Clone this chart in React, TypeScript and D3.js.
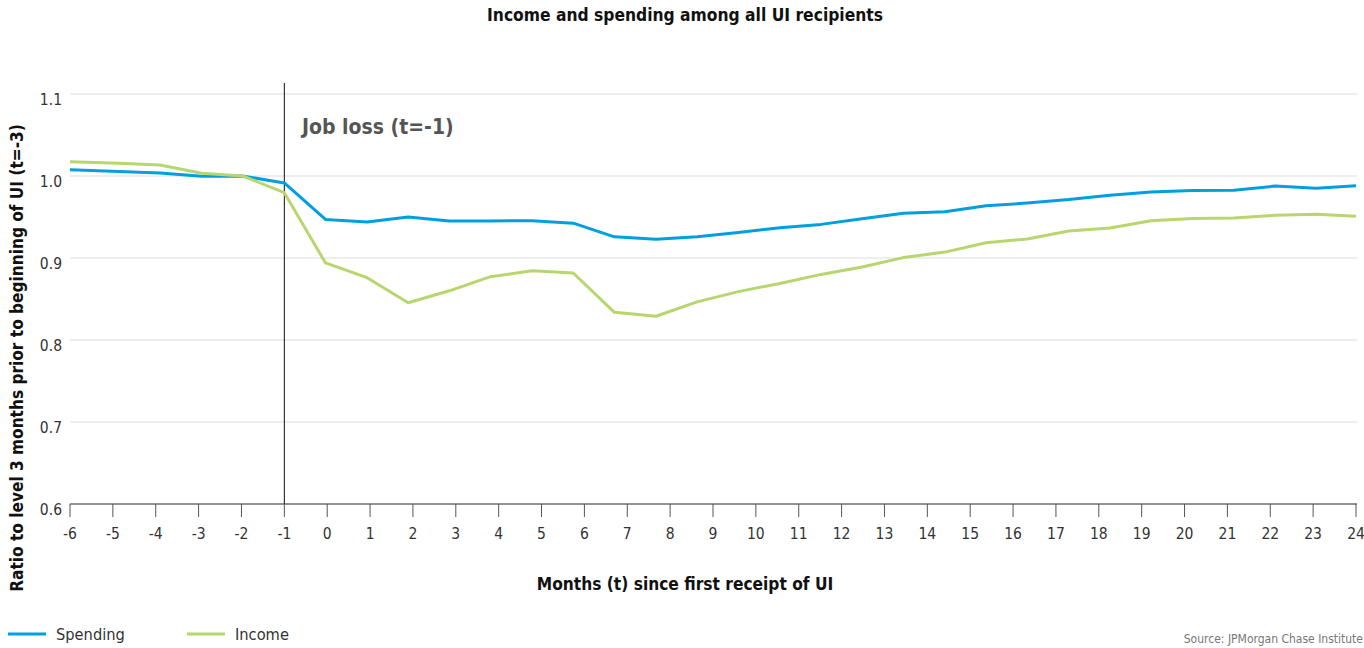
import React from "react";
import * as d3 from "d3";

const W = 1364;
const H = 648;

// x positions (months t) of the plotted points
const months = [
  -6.0, -4.86, -3.9, -2.93, -1.97, -1.0, -0.04, 0.93, 1.89, 2.85, 3.81, 4.78,
  5.74, 6.7, 7.67, 8.63, 9.59, 10.56, 11.52, 12.48, 13.44, 14.41, 15.37, 16.33,
  17.3, 18.26, 19.22, 20.19, 21.15, 22.11, 23.07, 24.0,
];

const spending = [
  1.0075, 1.0055, 1.0037, 0.9996, 1.0, 0.9915, 0.947, 0.944, 0.95, 0.945,
  0.9452, 0.9455, 0.9425, 0.9258, 0.9228, 0.9258, 0.931, 0.937, 0.941, 0.948,
  0.9545, 0.9565, 0.9638, 0.967, 0.9712, 0.9766, 0.9806, 0.9823, 0.9827,
  0.9877, 0.9852, 0.988,
];

const income = [
  1.0175, 1.0155, 1.0134, 1.0033, 1.0, 0.9797, 0.894, 0.876, 0.8455, 0.86,
  0.8772, 0.8845, 0.8817, 0.8337, 0.829, 0.8465, 0.859, 0.869, 0.88, 0.889,
  0.9005, 0.9072, 0.9187, 0.9232, 0.933, 0.9367, 0.9454, 0.9482, 0.9487,
  0.952, 0.9535, 0.951,
];

const xTicks = d3.range(-6, 25);
const yTicks = [0.6, 0.7, 0.8, 0.9, 1.0, 1.1];

const seriesNames = ["Spending", "Income"];
const seriesColors = ["#009fdf", "#b7d66e"];

const title = "Income and spending among all UI recipients";
const xTitle = "Months (t) since first receipt of UI";
const yTitle = "Ratio to level 3 months prior to beginning of UI (t=-3)";
const annotation = "Job loss (t=-1)";
const jobLossT = -1;
const source = "Source:  JPMorgan Chase Institute";

const narrow = "'DejaVu Sans Condensed', 'Liberation Sans Narrow', sans-serif";

export default function App() {
  const x = d3.scaleLinear().domain([-6, 24]).range([70, 1356]);
  const y = d3.scaleLinear().domain([0.6, 1.1]).range([504, 94]);

  const line = d3
    .line<number>()
    .x((_, i) => x(months[i]))
    .y((d) => y(d));

  const series = [spending, income];

  return (
    <svg
      width={W}
      height={H}
      style={{ position: "absolute", left: 0, top: 0, background: "#fff" }}
    >
      <text
        x={685}
        y={16}
        textAnchor="middle"
        dominantBaseline="middle"
        fontFamily={narrow}
        fontWeight="bold"
        fontSize={17.3}
        fill="#111"
      >
        {title}
      </text>

      {/* gridlines */}
      {yTicks
        .filter((t) => t > 0.6)
        .map((t) => (
          <line
            key={t}
            x1={70}
            x2={1357}
            y1={y(t)}
            y2={y(t)}
            stroke="#dcdcdc"
            strokeWidth={1}
          />
        ))}

      {/* y tick labels */}
      {yTicks.map((t) => (
        <text
          key={t}
          x={62}
          y={y(t) + 6}
          textAnchor="end"
          dominantBaseline="middle"
          fontFamily={narrow}
          fontSize={15.5}
          fill="#333"
        >
          {t.toFixed(1)}
        </text>
      ))}

      {/* x axis */}
      <line x1={70} x2={1357} y1={y(0.6)} y2={y(0.6)} stroke="#6e6e6e" strokeWidth={1.5} />
      {xTicks.map((t) => (
        <g key={t}>
          <line
            x1={x(t)}
            x2={x(t)}
            y1={y(0.6)}
            y2={y(0.6) + 13}
            stroke="#555"
            strokeWidth={1}
          />
          <text
            x={x(t)}
            y={534}
            textAnchor="middle"
            dominantBaseline="middle"
            fontFamily={narrow}
            fontSize={15.5}
            fill="#333"
          >
            {t}
          </text>
        </g>
      ))}

      {/* job loss marker */}
      <line
        x1={x(jobLossT)}
        x2={x(jobLossT)}
        y1={83}
        y2={y(0.6)}
        stroke="#111"
        strokeWidth={1}
      />
      <text
        x={302}
        y={128}
        dominantBaseline="middle"
        fontFamily={narrow}
        fontWeight="bold"
        fontSize={21}
        fill="#555"
      >
        {annotation}
      </text>

      {/* lines */}
      {series.map((s, i) => (
        <path
          key={i}
          d={line(s) || ""}
          fill="none"
          stroke={seriesColors[i]}
          strokeWidth={3}
          strokeLinejoin="round"
        />
      ))}

      {/* axis titles */}
      <text
        x={685}
        y={585}
        textAnchor="middle"
        dominantBaseline="middle"
        fontFamily={narrow}
        fontWeight="bold"
        fontSize={17.2}
        fill="#111"
      >
        {xTitle}
      </text>
      <text
        transform={`translate(18, ${358}) rotate(-90)`}
        textAnchor="middle"
        dominantBaseline="middle"
        fontFamily={narrow}
        fontWeight="bold"
        fontSize={17.1}
        fill="#111"
      >
        {yTitle}
      </text>

      {/* legend */}
      {seriesNames.map((n, i) => {
        const lx = i === 0 ? 8 : 187;
        return (
          <g key={n}>
            <line
              x1={lx}
              x2={lx + 38}
              y1={634}
              y2={634}
              stroke={seriesColors[i]}
              strokeWidth={3}
            />
            <text
              x={lx + 48}
              y={635}
              dominantBaseline="middle"
              fontFamily={narrow}
              fontSize={16.3}
              fill="#333"
            >
              {n}
            </text>
          </g>
        );
      })}

      <text
        x={1363}
        y={639}
        textAnchor="end"
        dominantBaseline="middle"
        fontFamily={narrow}
        fontSize={12}
        fill="#777"
      >
        {source}
      </text>
    </svg>
  );
}
